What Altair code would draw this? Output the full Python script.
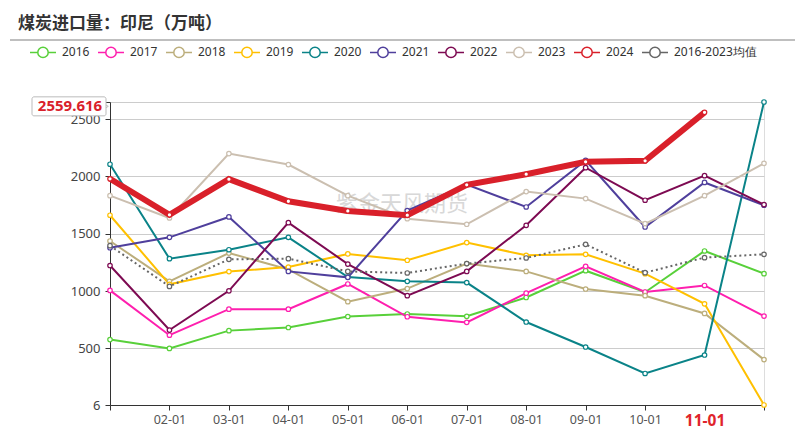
import altair as alt
import pandas as pd

title_text = "煤炭进口量：印尼（万吨）"
watermark_text = "紫金天风期货"
months = ["01-01", "02-01", "03-01", "04-01", "05-01", "06-01",
          "07-01", "08-01", "09-01", "10-01", "11-01", "12-01"]
series_names = ["2016", "2017", "2018", "2019", "2020", "2021",
                "2022", "2023", "2024", "2016-2023均值"]
colors = ["#58d03a", "#fe1fae", "#bcae7c", "#ffc000", "#0a8388", "#4f3f9c",
          "#7d0a52", "#cbbfb0", "#d9202a", "#666666"]

s2016 = [577, 500, 655, 682, 778, 800, 780, 944, 1178, 990, 1350, 1152]
s2017 = [1006, 615, 842, 842, 1062, 776, 727, 982, 1216, 992, 1049, 782]
s2018 = [1437, 1085, 1332, 1190, 908, 1022, 1240, 1172, 1018, 960, 805, 402]
s2019 = [1662, 1059, 1170, 1210, 1324, 1269, 1423, 1312, 1321, 1152, 889, 6]
s2020 = [2107, 1283, 1361, 1469, 1123, 1085, 1074, 730, 512, 281, 442, 2650]
s2021 = [1378, 1469, 1647, 1172, 1120, 1703, 1930, 1734, 2140, 1559, 1948, 1749]
s2022 = [1223, 660, 1002, 1597, 1236, 960, 1172, 1574, 2077, 1793, 2007, 1755]
s2023 = [1833, 1638, 2200, 2104, 1833, 1632, 1583, 1868, 1807, 1589, 1833, 2115]
s2024 = [1980, 1666, 1977, 1784, 1699, 1662, 1927, 2020, 2128, 2137, 2559.616, None]
s_avg = [1396, 1041, 1277, 1283, 1172, 1158, 1240, 1289, 1408, 1161, 1292, 1321]

y_ticks = [6, 500, 1000, 1500, 2000, 2500, 2650]
highlight_month = "11-01"
pointer_value = 2559.616

all_series = [s2016, s2017, s2018, s2019, s2020, s2021, s2022, s2023, s2024, s_avg]
rows = []
for name, vals in zip(series_names, all_series):
    for m, v in zip(months, vals):
        if v is not None:
            rows.append({"series": name, "month": m, "value": v})
df = pd.DataFrame(rows)

legend_path = ("M-1,0L-0.4,0M0.4,0L1,0M0.4,0A0.4,0.4,0,1,1,-0.4,0"
               "A0.4,0.4,0,1,1,0.4,0")

color = alt.Color(
    "series:N",
    scale=alt.Scale(domain=series_names, range=colors),
    legend=alt.Legend(
        title=None, orient="none", legendX=-81, legendY=-64,
        direction="horizontal", columns=10, symbolType=legend_path,
        symbolSize=676, symbolStrokeWidth=1.5, symbolFillColor="white",
        labelFontSize=12, labelColor="#333", labelFont="Noto Sans",
        labelOffset=5, columnPadding=5, padding=0, gridAlign="each",
    ),
)

x = alt.X(
    "month:O",
    scale=alt.Scale(type="point", padding=0, domain=months),
    axis=alt.Axis(
        title=None, labelAngle=0, tickSize=5, domainColor="#333",
        tickColor="#333", labelPadding=3, zindex=0,
        labelExpr=f"datum.value == '{months[0]}' || datum.value == '{months[-1]}' ? '' : datum.value",
        labelColor={"condition": {"test": f"datum.value == '{highlight_month}'", "value": "#e0242b"}, "value": "#555"},
        labelFontWeight={"condition": {"test": f"datum.value == '{highlight_month}'", "value": "bold"}, "value": "normal"},
        labelFontSize={"condition": {"test": f"datum.value == '{highlight_month}'", "value": 15.5}, "value": 12.5},
        labelFont="Noto Sans",
    ),
)
y = alt.Y(
    "value:Q",
    scale=alt.Scale(domain=[y_ticks[0], y_ticks[-1]], nice=False, zero=False),
    axis=alt.Axis(
        title=None, values=y_ticks, format="d", grid=True, gridColor="#cccccc",
        tickSize=5, tickColor="#333", domainColor="#333", labelPadding=5,
        labelFontSize=13, labelColor="#444", labelFont="Noto Sans", zindex=0,
    ),
)

base = alt.Chart(df).encode(x=x, y=y, color=color)
f_others = alt.FieldOneOfPredicate(field="series", oneOf=series_names[:8])
f_2024 = alt.FieldEqualPredicate(field="series", equal=series_names[8])
f_avg = alt.FieldEqualPredicate(field="series", equal=series_names[9])

pt = dict(filled=False, fill="white", fillOpacity=1, size=20, strokeWidth=1.2, opacity=1)

others_line = base.transform_filter(f_others).mark_line(strokeWidth=2)
others_pts = base.transform_filter(f_others).mark_point(**pt)
avg_line = base.transform_filter(f_avg).mark_line(strokeWidth=2, strokeDash=[2, 3])
avg_pts = base.transform_filter(f_avg).mark_point(**pt)
red_line = base.transform_filter(f_2024).mark_line(strokeWidth=6)
red_pts = base.transform_filter(f_2024).mark_point(**pt)

one = pd.DataFrame({"label": [f"{pointer_value:.3f}"], "title": [title_text], "wm": [watermark_text]})

title_mark = alt.Chart(one).mark_text(
    font="Noto Sans CJK SC", fontWeight="bold", fontSize=17, color="#333",
    align="left", baseline="middle",
).encode(text="title:N", x=alt.value(-92), y=alt.value(-78))

sep = alt.Chart(one).mark_rule(color="#aaaaaa", strokeWidth=1.5).encode(
    x=alt.value(-100), x2=alt.value(685), y=alt.value(-62))

wm = alt.Chart(one).mark_text(
    font="Noto Sans CJK SC", fontSize=22, color="#c8c8c8", opacity=0.7,
    align="center", baseline="middle",
).encode(text="wm:N", x=alt.value(292), y=alt.value(102))

arrow = alt.Chart(one).mark_point(
    shape="triangle-right", filled=True, fill="white", stroke="#bbbbbb",
    strokeWidth=1, size=28, opacity=1, yOffset=-6,
).encode(x=alt.value(-4), y=alt.datum(pointer_value))

box = alt.Chart(one).mark_rect(
    fill="white", stroke="#bbbbbb", strokeWidth=1, cornerRadius=2,
    yOffset=-15.5, y2Offset=3.5,
).encode(x=alt.value(-78), x2=alt.value(-4), y=alt.datum(pointer_value),
         y2=alt.datum(pointer_value))

box_text = alt.Chart(one).mark_text(
    font="Noto Sans", fontWeight="bold", fontSize=15, color="#d9202a",
    align="center", baseline="middle", dy=-6,
).encode(text="label:N", x=alt.value(-40), y=alt.datum(pointer_value))

chart = alt.layer(
    wm, others_line, others_pts, avg_line, avg_pts, red_line, red_pts,
    arrow, box, box_text, title_mark, sep,
).properties(
    width=654, height=303,
    autosize=alt.AutoSizeParams(type="none"),
    padding={"left": 102, "top": 94, "right": 34, "bottom": 26},
).configure_view(stroke=None).configure(font="Noto Sans")

chart.save("out.html", embed_options={"renderer": "svg", "actions": False})
